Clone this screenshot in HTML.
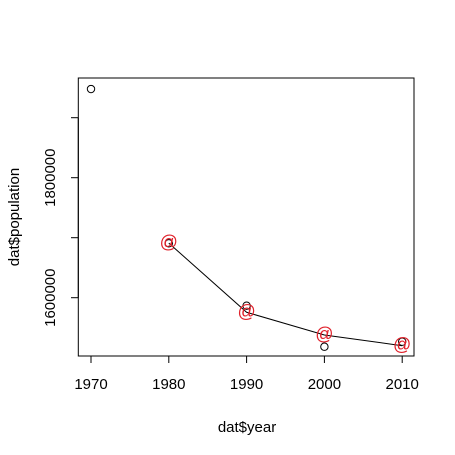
<!DOCTYPE html>
<html><head><meta charset="utf-8"><style>body{margin:0;background:#fff}svg{display:block}text{font-family:"Liberation Sans",Arial,sans-serif;font-size:15px;fill:#000}</style></head>
<body>
<svg id="chart" width="455" height="455" viewBox="0 0 455 455"></svg>
<script>
const years=[1970,1980,1990,2000,2010];
const populationPoints=[1947800,1690700,1586700,1518300,1526700];
const fittedYears=[1980,1990,2000,2010];
const fittedValues=[1691000,1575700,1537800,1520000];
const xTicks=[1970,1980,1990,2000,2010];
const yTicks=[1600000,1700000,1800000,1900000];
const yLabels=[1600000,1800000];

const NS='http://www.w3.org/2000/svg';
const svg=document.getElementById('chart');
function X(v){return 91+(v-1970)*7.78;}
function Y(v){return 297.7-(v-1600000)*0.0006;}
function mk(tag,attrs,parent){const e=document.createElementNS(NS,tag);for(const k in attrs)e.setAttribute(k,attrs[k]);(parent||svg).appendChild(e);return e;}

const box=mk('rect',{x:78.3,y:78,width:335.7,height:278,fill:'none',stroke:'#000','stroke-width':1});



const xa=mk('g',{});


mk('line',{x1:X(xTicks[0]),x2:X(xTicks[xTicks.length-1]),y1:356,y2:356,stroke:'#000'},xa);
xTicks.forEach(t=>{
  mk('line',{x1:X(t),x2:X(t),y1:356,y2:363,stroke:'#000'},xa);
  const tx=mk('text',{x:X(t),y:389,'text-anchor':'middle'},xa);
  tx.textContent=t;
  
  
});
const ya=mk('g',{});


mk('line',{x1:78.3,x2:78.3,y1:Y(yTicks[yTicks.length-1]),y2:Y(yTicks[0]),stroke:'#000'},ya);
yTicks.forEach(t=>{mk('line',{x1:71,x2:78.3,y1:Y(t),y2:Y(t),stroke:'#000'},ya);});
yLabels.forEach(t=>{
  const tx=mk('text',{x:0,y:0,'text-anchor':'middle',transform:`translate(55,${Y(t)}) rotate(-90)`},ya);
  tx.textContent=t;
  
  
});
const xt=mk('text',{x:247,y:432,'text-anchor':'middle'});
xt.textContent='dat$year';


const yt=mk('text',{x:0,y:0,'text-anchor':'middle',transform:'translate(19,217) rotate(-90)'});
yt.textContent='dat$population';



const line=mk('polyline',{points:fittedYears.map((y,i)=>X(y)+','+Y(fittedValues[i])).join(' '),fill:'none',stroke:'#000','stroke-width':1});



years.forEach((y,i)=>{
  const c=mk('circle',{cx:X(y),cy:Y(populationPoints[i]),r:3.7,fill:'none',stroke:'#000','stroke-width':1});
  
  
});
fittedYears.forEach((y,i)=>{
  const t=mk('text',{x:X(y),y:Y(fittedValues[i])+5,'text-anchor':'middle',style:'fill:#e0202a;font-size:18px'});
  t.textContent='@';
  
  
});
</script>
</body></html>
